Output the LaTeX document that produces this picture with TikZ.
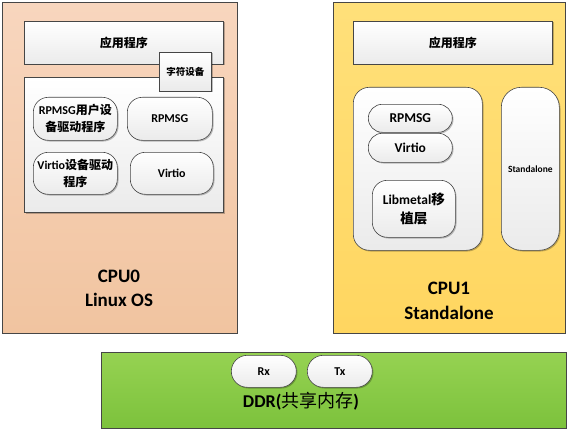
\documentclass[tikz,border=0pt]{standalone}
\usepackage{fontspec}
\setmainfont{Carlito}
\newfontfamily\cjk{Noto Sans CJK SC}
\usetikzlibrary{shadows}
\newcommand\zh[1]{{\cjk #1}}
\definecolor{peachtop}{RGB}{248,214,190}
\definecolor{peachbot}{RGB}{241,196,160}
\definecolor{goldtop}{RGB}{255,224,122}
\definecolor{goldbot}{RGB}{255,214,96}
\definecolor{greentop}{RGB}{150,210,82}
\definecolor{greenbot}{RGB}{124,194,60}
\definecolor{edge}{RGB}{70,70,70}
\tikzset{
  outerbox/.style={draw=edge, line width=0.8pt, inner sep=0pt, anchor=north west},
  sqbox/.style={draw=edge, line width=0.6pt, top color=white, bottom color=black!8,
     inner sep=0pt, anchor=north west, align=center,
     drop shadow={shadow xshift=1.2pt, shadow yshift=-1.2pt, opacity=0.25, fill=black}},
  rbox/.style={sqbox, rounded corners=#1},
  rbox/.default=15pt,
  lbl/.style={font=\bfseries\fontsize{12}{17}\selectfont},
  big/.style={font=\bfseries\fontsize{19}{24.5}\selectfont, align=center},
}
\begin{document}
\begin{tikzpicture}[x=1pt,y=-1pt]
\useasboundingbox (0,0) rectangle (569,433);
% CPU0
\node[outerbox, top color=peachtop, bottom color=peachbot, minimum width=235pt, minimum height=331pt] (cpu0) at (2,2) {};
\node[sqbox, lbl, minimum width=199pt, minimum height=43pt] (app0) at (24,21) {\zh{应用程序}};
\node[sqbox, minimum width=199pt, minimum height=135pt] (inner0) at (24,77) {};
\node[sqbox, font=\bfseries\fontsize{9.5}{11}\selectfont, minimum width=52pt, minimum height=39pt] (chr) at (159,52) {\zh{字符设备}};
\node[rbox, lbl, minimum width=84pt, minimum height=43pt] (rpuser) at (33,97) {RPMSG\zh{用户设}\\\zh{备驱动程序}};
\node[rbox, lbl, minimum width=85pt, minimum height=43pt] (rp0) at (127,97) {RPMSG};
\node[rbox, lbl, minimum width=84pt, minimum height=42pt] (vdrv) at (33,152) {Virtio\zh{设备驱动}\\\zh{程序}};
\node[rbox, lbl, minimum width=83pt, minimum height=42pt] (vt0) at (130,152) {Virtio};
\node[big] (cpu0lbl) at (119,288.5) {CPU0\\Linux OS};
% CPU1
\node[outerbox, top color=goldtop, bottom color=goldbot, minimum width=232pt, minimum height=331pt] (cpu1) at (333,2) {};
\node[sqbox, lbl, minimum width=199pt, minimum height=43pt] (app1) at (353,21) {\zh{应用程序}};
\node[rbox=16pt, minimum width=129pt, minimum height=163pt] (inner1) at (353,87) {};
\node[rbox=20pt, font=\bfseries\fontsize{9.5}{11}\selectfont, minimum width=58pt, minimum height=163pt] (sa) at (501,87) {Standalone};
\node[rbox=14pt, font=\bfseries\fontsize{13.5}{16}\selectfont, minimum width=84pt, minimum height=28pt] (rp1) at (368,104) {RPMSG};
\node[rbox=14pt, font=\bfseries\fontsize{13.5}{16}\selectfont, minimum width=84pt, minimum height=29pt] (vt1) at (368,133) {Virtio};
\node[rbox=15pt, font=\bfseries\fontsize{13.5}{19}\selectfont, minimum width=83pt, minimum height=57pt] (lib) at (372,180) {Libmetal\zh{移}\\\zh{植层}};
\node[big] (cpu1lbl) at (449,301) {CPU1\\Standalone};
% DDR
\node[outerbox, top color=greentop, bottom color=greenbot, minimum width=465pt, minimum height=76pt] (ddr) at (101,352) {};
\node[rbox=16pt, lbl, minimum width=65pt, minimum height=32pt] (rx) at (231,355) {Rx};
\node[rbox=16pt, lbl, minimum width=65pt, minimum height=32pt] (tx) at (307,355) {Tx};
\node[font=\bfseries\fontsize{18}{20}\selectfont] (ddrlbl) at (301,401) {DDR(\zh{\mdseries 共享内存})};
\end{tikzpicture}
\end{document}
